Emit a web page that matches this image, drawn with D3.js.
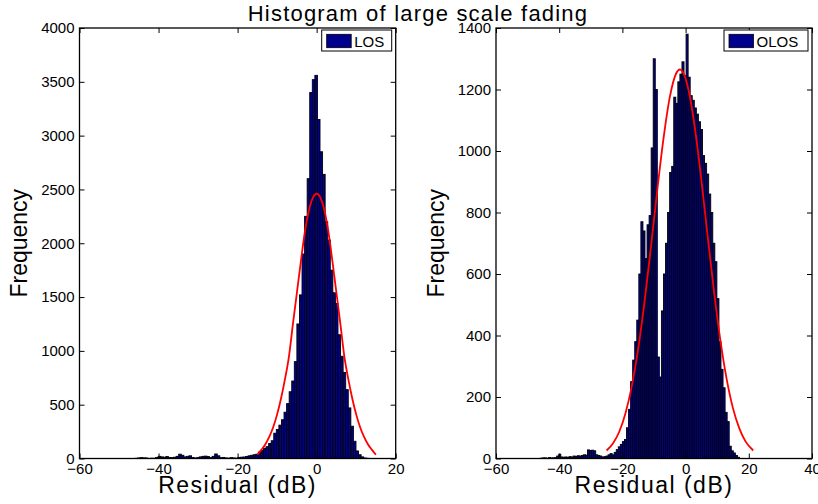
<!DOCTYPE html>
<html>
<head>
<meta charset="utf-8">
<script src="https://cdn.jsdelivr.net/npm/d3@7"></script>
<style>
  body { margin: 0; background: #fff; }
  text { font-family: "Liberation Sans", Arial, Helvetica, sans-serif; fill: #000; }
</style>
</head>
<body>
<svg id="chart" width="818" height="504"></svg>
<script>
// LOS histogram: equal-width bins starting at losBinStart
const losBinStart = -47.25;
const losBinWidth = 0.65;
const losCounts = [
    0, 0, 2, 5, 8, 6, 5, 0, 3, 2,
    10, 20, 15, 12, 18, 10, 8, 12, 20, 40,
    30, 15, 20, 25, 10, 5, 8, 15, 20, 22,
    18, 8, 20, 42, 25, 8, 10, 5, 3, 8,
    5, 3, 10, 12, 14, 18, 25, 30, 35,
    40, 60, 75, 95, 110, 140, 165, 235, 270, 310,
    360, 430, 510, 620, 720, 900, 1250, 1520, 1900, 2250,
    2600, 3400, 3520, 3560,
    3150, 2850, 2640, 2200, 2030, 1750, 1540, 1440, 1150, 950,
    800, 640, 470, 300, 160, 70, 35, 15, 5, 2
];
// fitted normal curve
const losFitX = [-15, -14, -13, -12, -11, -10, -9, -8, -7, -6, -5, -4, -3, -2, -1, 0, 1, 2, 3, 4, 5, 6, 7, 8, 9, 10, 11, 12, 13, 14, 15];
const losFitY = [35, 80, 130, 200, 290, 410, 560, 740, 950, 1250, 1540, 1830, 2100, 2300, 2420, 2460, 2420, 2300, 2100, 1830, 1540, 1250, 950, 740, 560, 410, 290, 200, 130, 80, 35];

// OLOS histogram
const olosBinStart = -46.0;
const olosBinWidth = 0.65;
const olosCounts = [
    1, 2, 2, 1, 3, 2, 2, 3, 8, 14,
    5, 4, 5, 4, 6, 5, 8, 7, 9, 8,
    10, 12, 11, 28, 26, 27, 25, 12, 10, 8,
    5, 6, 8, 12, 16, 12, 20, 29, 38, 46,
    55, 62, 100, 160, 250, 320, 380,
    450, 600, 770, 740, 650, 760, 790, 1010, 1300, 1200,
    330, 265, 480, 600, 700, 800, 930, 950, 1175, 1155,
    1225, 1250, 1290, 1245, 1380, 1240, 1180, 1165, 1140, 1120,
    1095, 1070, 985, 960, 925, 860, 800, 700, 640, 520,
    380, 290, 230, 150, 120, 40, 25, 18, 10, 4
];
const olosFitX = [-25, -23, -21, -19, -17, -15, -13, -11, -9, -7, -5, -3, -1.8, -1, 1, 3, 5, 7, 9, 11, 13, 15, 17, 19, 21.4];
const olosFitY = [26, 49, 87, 148, 237, 357, 509, 685, 869, 1040, 1175, 1252, 1265, 1259, 1195, 1070, 905, 721, 543, 385, 258, 163, 98, 55, 26];

const losXTicks = [-60, -40, -20, 0, 20];
const losYTicks = [0, 500, 1000, 1500, 2000, 2500, 3000, 3500, 4000];
const olosXTicks = [-60, -40, -20, 0, 20, 40];
const olosYTicks = [0, 200, 400, 600, 800, 1000, 1200, 1400];

const barFill = "#00008f";
const svg = d3.select("#chart");

svg.append("text").attr("x", 418).attr("y", 21).attr("text-anchor", "middle")
    .style("font-size", "22px").style("letter-spacing", "1.2px").text("Histogram of large scale fading");

function drawPanel(p) {
    const top = 28, bottom = 458.5;
    const x = d3.scaleLinear().domain(p.xDomain).range([p.left, p.right]);
    const y = d3.scaleLinear().domain([0, p.yMax]).range([bottom, top]);
    const g = svg.append("g");

    // bars
    const bins = p.counts.map((c, i) => ({x0: p.binStart + i * p.binWidth, x1: p.binStart + (i + 1) * p.binWidth, c}));
    g.selectAll("rect.bar").data(bins).join("rect").attr("class", "bar")
        .attr("x", d => x(d.x0)).attr("width", d => x(d.x1) - x(d.x0))
        .attr("y", d => y(d.c)).attr("height", d => y(0) - y(d.c))
        .attr("fill", barFill).attr("stroke", "#000").attr("stroke-width", 0.9);

    // fitted curve
    const fit = p.fitX.map((v, i) => [v, p.fitY[i]]);
    g.append("path").datum(fit).attr("fill", "none").attr("stroke", "#ff0000").attr("stroke-width", 1.8)
        .attr("d", d3.line().x(d => x(d[0])).y(d => y(d[1])).curve(d3.curveMonotoneX));

    // axes with inward ticks
    const fmt = d3.format("");
    const ax = [
        g.append("g").attr("transform", `translate(0,${bottom})`).call(d3.axisBottom(x).tickValues(p.xTicks).tickFormat(fmt).tickSize(-5).tickPadding(5)),
        g.append("g").attr("transform", `translate(0,${top})`).call(d3.axisTop(x).tickValues(p.xTicks).tickFormat("").tickSize(-5)),
        g.append("g").attr("transform", `translate(${p.left},0)`).call(d3.axisLeft(y).tickValues(p.yTicks).tickFormat(fmt).tickSize(-5).tickPadding(5)),
        g.append("g").attr("transform", `translate(${p.right},0)`).call(d3.axisRight(y).tickValues(p.yTicks).tickFormat("").tickSize(-5))
    ];
    ax.forEach(a => {
        a.select(".domain").remove();
        a.selectAll("line").attr("stroke", "#000");
        a.selectAll("text").style("font-size", "15px").attr("fill", "#000");
    });
    g.append("rect").attr("x", p.left).attr("y", top).attr("width", p.right - p.left).attr("height", bottom - top)
        .attr("fill", "none").attr("stroke", "#000").attr("stroke-width", 1.3);

    // axis labels
    g.append("text").attr("x", (p.left + p.right) / 2).attr("y", 493).attr("text-anchor", "middle")
        .style("font-size", "23px").style("letter-spacing", "1.5px").text("Residual (dB)");
    g.append("text").attr("transform", `translate(${p.left - 52.5},${(top + bottom) / 2}) rotate(-90)`).attr("text-anchor", "middle")
        .style("font-size", "23px").text("Frequency");

    // legend
    const lg = g.append("g").attr("transform", `translate(${p.right - p.legendW - 4},30)`);
    lg.append("rect").attr("width", p.legendW).attr("height", 21).attr("fill", "#fff").attr("stroke", "#000").attr("stroke-width", 1);
    lg.append("rect").attr("x", 5).attr("y", 4.3).attr("width", 24.5).attr("height", 13.4).attr("fill", barFill).attr("stroke", "#000").attr("stroke-width", 0.8);
    lg.append("text").attr("x", 32.5).attr("y", 16.5).style("font-size", "15px").text(p.label);
}

drawPanel({left: 79.5, right: 395.7, xDomain: [-60, 20], yMax: 4000, xTicks: losXTicks, yTicks: losYTicks,
    binStart: losBinStart, binWidth: losBinWidth, counts: losCounts, fitX: losFitX, fitY: losFitY, label: "LOS", legendW: 70});
drawPanel({left: 496, right: 812, xDomain: [-60, 40], yMax: 1400, xTicks: olosXTicks, yTicks: olosYTicks,
    binStart: olosBinStart, binWidth: olosBinWidth, counts: olosCounts, fitX: olosFitX, fitY: olosFitY, label: "OLOS", legendW: 84});
</script>
</body>
</html>
